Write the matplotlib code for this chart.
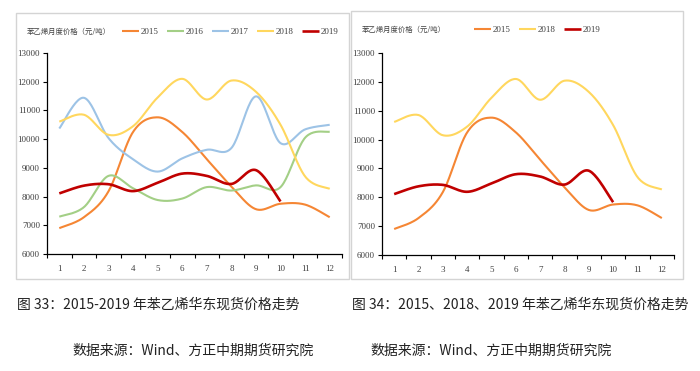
import numpy as np
import matplotlib
matplotlib.use("Agg")
import matplotlib.pyplot as plt
from matplotlib.patches import Rectangle

plt.rcParams['font.family'] = ['Noto Sans CJK SC', 'DejaVu Sans']

# monthly styrene prices, East China (yuan/ton)
months = list(range(1, 13))
p2015 = [6900, 7280, 8180, 10250, 10760, 10250, 9300, 8350, 7560, 7750, 7720, 7280]
p2016 = [7300, 7630, 8720, 8290, 7880, 7930, 8330, 8210, 8390, 8330, 10050, 10260]
p2017 = [10370, 11440, 10040, 9300, 8870, 9330, 9630, 9690, 11490, 9860, 10340, 10500]
p2018 = [10610, 10850, 10150, 10450, 11450, 12100, 11380, 12040, 11650, 10500, 8700, 8270]
p2019 = [8110, 8380, 8430, 8190, 8480, 8800, 8720, 8440, 8920, 7830]

colors = {'2015': '#F58634', '2016': '#A3CF86', '2017': '#9DC3E6',
          '2018': '#FFD75E', '2019': '#C00000'}

ax_title = '苯乙烯月度价格（元/吨）'
cap1 = '图 33：2015-2019 年苯乙烯华东现货价格走势'
cap2 = '图 34：2015、2018、2019 年苯乙烯华东现货价格走势'
source = '数据来源：Wind、方正中期期货研究院'

serif = 'Liberation Serif'


def smooth(x, y, n=24):
    # excel style smoothed line (bezier, catmull-rom control points)
    p = np.column_stack([np.asarray(x, float), np.asarray(y, float)])
    ext = np.vstack([p[0], p, p[-1]])
    out = []
    t = np.linspace(0, 1, n)[:, None]
    for i in range(len(p) - 1):
        p0, p1 = ext[i + 1], ext[i + 2]
        c1 = p0 + (ext[i + 2] - ext[i]) / 6
        c2 = p1 - (ext[i + 3] - ext[i + 1]) / 6
        seg = (1 - t) ** 3 * p0 + 3 * (1 - t) ** 2 * t * c1 + 3 * (1 - t) * t ** 2 * c2 + t ** 3 * p1
        out.append(seg if i == 0 else seg[1:])
    out = np.vstack(out)
    return out[:, 0], out[:, 1]


def style_axes(ax):
    ax.set_xlim(0.5, 12.5)
    ax.set_ylim(6000, 13000)
    ax.set_yticks(range(6000, 13001, 1000))
    ax.set_xticks(np.arange(0.5, 12.6, 1))
    ax.set_xticklabels([])
    ax.set_xticks(months, minor=True)
    ax.set_xticklabels([str(m) for m in months], minor=True)
    ax.tick_params(axis='x', which='major', direction='out', length=3, width=0.8)
    ax.tick_params(axis='x', which='minor', length=0, pad=8, labelsize=6.5, labelcolor='#404040')
    ax.tick_params(axis='y', direction='out', length=3, width=0.8, labelsize=6.5,
                   labelcolor='#404040', pad=2)
    for lab in ax.get_xticklabels(minor=True) + ax.get_yticklabels():
        lab.set_family(serif)
    for s in ['top', 'right']:
        ax.spines[s].set_visible(False)
    for s in ['left', 'bottom']:
        ax.spines[s].set_linewidth(0.9)
        ax.spines[s].set_color('black')


fig = plt.figure(figsize=(7, 3.71), dpi=100)

# panel frames
fig.patches.append(Rectangle((16 / 700, 1 - 279 / 371), 333 / 700, 266 / 371,
                             transform=fig.transFigure, fill=False,
                             edgecolor='#d4d4d4', linewidth=1))
fig.patches.append(Rectangle((351 / 700, 1 - 279 / 371), 332 / 700, 268 / 371,
                             transform=fig.transFigure, fill=False,
                             edgecolor='#d4d4d4', linewidth=1))

ax1 = fig.add_axes([47 / 700, 1 - 254 / 371, 295 / 700, 201 / 371])
ax2 = fig.add_axes([382 / 700, 1 - 255 / 371, 292 / 700, 202 / 371])

series = [('2015', p2015), ('2016', p2016), ('2017', p2017), ('2018', p2018), ('2019', p2019)]

h1 = []
for name, vals in series:
    xs, ys = smooth(months[:len(vals)], vals)
    lw = 1.9 if name == '2019' else 1.5
    ln, = ax1.plot(xs, ys, color=colors[name], lw=lw, label=name, solid_capstyle='butt')
    h1.append(ln)

h2 = []
for name, vals in series:
    if name not in ('2015', '2018', '2019'):
        continue
    xs, ys = smooth(months[:len(vals)], vals)
    lw = 1.9 if name == '2019' else 1.5
    ln, = ax2.plot(xs, ys, color=colors[name], lw=lw, label=name, solid_capstyle='butt')
    h2.append(ln)

style_axes(ax1)
style_axes(ax2)

leg_kw = dict(frameon=False, handlelength=1.9, handletextpad=0.2, columnspacing=0.9,
              prop={'family': serif, 'size': 6.5}, labelcolor='#404040',
              loc='center left', bbox_transform=fig.transFigure, borderaxespad=0,
              borderpad=0)
ax1.legend(handles=h1, ncol=5, bbox_to_anchor=(122 / 700, 1 - 32 / 371), **leg_kw)
ax2.legend(handles=h2, ncol=3, bbox_to_anchor=(474 / 700, 1 - 30 / 371), **leg_kw)

fig.text(27 / 700, 1 - 32 / 371, ax_title, fontsize=5.3, color='#404040', va='center')
fig.text(362 / 700, 1 - 30 / 371, ax_title, fontsize=5.3, color='#404040', va='center')

fig.text(17 / 700, 1 - 305 / 371, cap1, fontsize=10, color='#222222', va='center')
fig.text(352 / 700, 1 - 305 / 371, cap2, fontsize=10, color='#222222', va='center')
fig.text(72 / 700, 1 - 351 / 371, source, fontsize=10, color='#222222', va='center')
fig.text(370 / 700, 1 - 351 / 371, source, fontsize=10, color='#222222', va='center')

fig.savefig('out.png', dpi=100)
